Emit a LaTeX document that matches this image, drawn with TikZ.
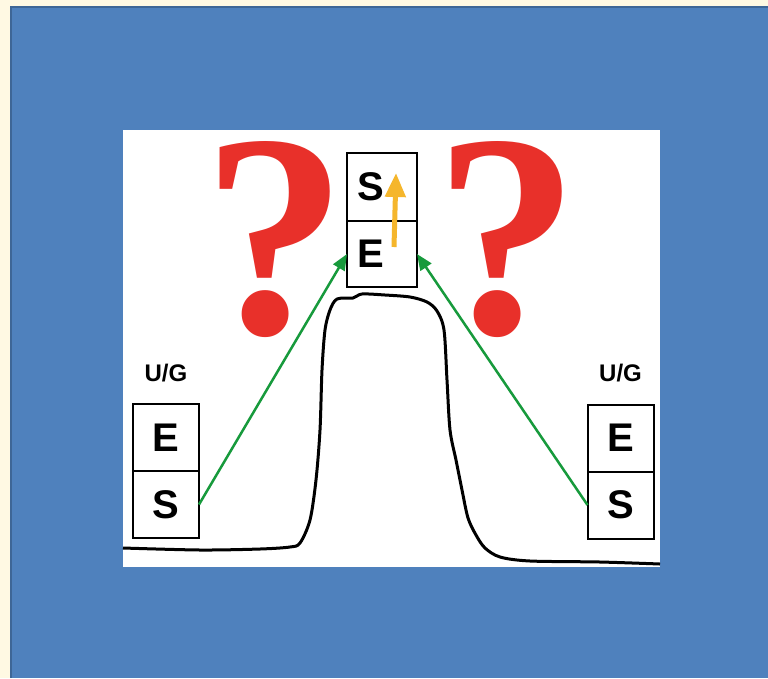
\documentclass[tikz,border=0pt]{standalone}
\usepackage{fontspec}
\setsansfont{Liberation Sans}
\newfontfamily\qfont{Liberation Serif}
\usetikzlibrary{arrows.meta,positioning}

\definecolor{cream}{HTML}{FFF9E3}
\definecolor{slideblue}{HTML}{4F81BD}
\definecolor{slideedge}{HTML}{3E6696}
\definecolor{qred}{HTML}{E8302A}
\definecolor{arrowgreen}{HTML}{179A3C}
\definecolor{arrowyellow}{HTML}{F5B62C}

\tikzset{
  cell/.style={shape=rectangle, draw=black, line width=2pt, outer sep=0pt,
               fill=white, minimum width=66pt, minimum height=67pt,
               font=\sffamily\bfseries\fontsize{40}{40}\selectfont},
  topcell/.style={cell, text width=50pt, inner xsep=10pt, align=left},
  tag/.style={font=\sffamily\bfseries\fontsize{24}{24}\selectfont, inner sep=0pt},
  query/.style={text=qred, inner sep=0pt,
                font=\qfont\bfseries\fontsize{290}{290}\selectfont}
}

\begin{document}
\begin{tikzpicture}[x=1pt, y=-1pt]
      \useasboundingbox (0,0) rectangle (768,678);
      \fill[cream] (0,0) rectangle (768,678);
      \fill[slideblue] (10,6) rectangle (768,678);
      \draw[slideedge, line width=2.5pt] (11,678) -- (11,7) -- (768,7);
      \fill[white] (123,130) rectangle (660,567);

      % question marks
      \node[query] (qL) at (275,240) {?};
      \node[query] (qR) at (507,240) {?};

      % trace
      \draw[black, line width=3pt, line join=round]
           plot[smooth, tension=0.5] coordinates {
             (123,548) (200,550) (260,549) (290,547) (300,543) (310,520)
             (316,480) (320,430) (322,370) (325,330) (330,310) (337,299)
             (353,298) (362,294) (385,295) (410,297) (427,302) (437,311)
             (444,330) (447,380) (450,430) (456,460) (462,490) (468,518)
             (476,535) (485,548) (500,557) (530,561) (600,562) (660,564)};

      % boxes
      \node[cell] (lE) at (166,437.5) {E};
      \node[cell] (lS) [below = 0pt of lE] {S};
      \node[tag] (lUG) [above = 22pt of lE] {U/G};

      \node[cell] (rE) at (620.5,438) {E};
      \node[cell] (rS) [below = 0pt of rE] {S};
      \node[tag] (rUG) [above = 22pt of rE] {U/G};

      \node[topcell, minimum height=68pt] (tS) at (382,187) {S};
      \node[topcell, minimum height=66pt] (tE) [below = 0pt of tS] {E};

      \coordinate (upFoot) at (394,247);
      \coordinate (upTip) at (396,173);

      \path [-{Triangle[length=16pt,width=13pt]}, arrowgreen, line width=2.5pt]
            (lS.east) edge node {} (tE.west);
      \path [-{Triangle[length=16pt,width=13pt]}, arrowgreen, line width=2.5pt]
            (rS.west) edge node {} (tE.east);
      \path [-{Triangle[length=24pt,width=20pt]}, arrowyellow, line width=5pt]
            (upFoot) edge node {} (upTip);
  \end{tikzpicture}
\end{document}
